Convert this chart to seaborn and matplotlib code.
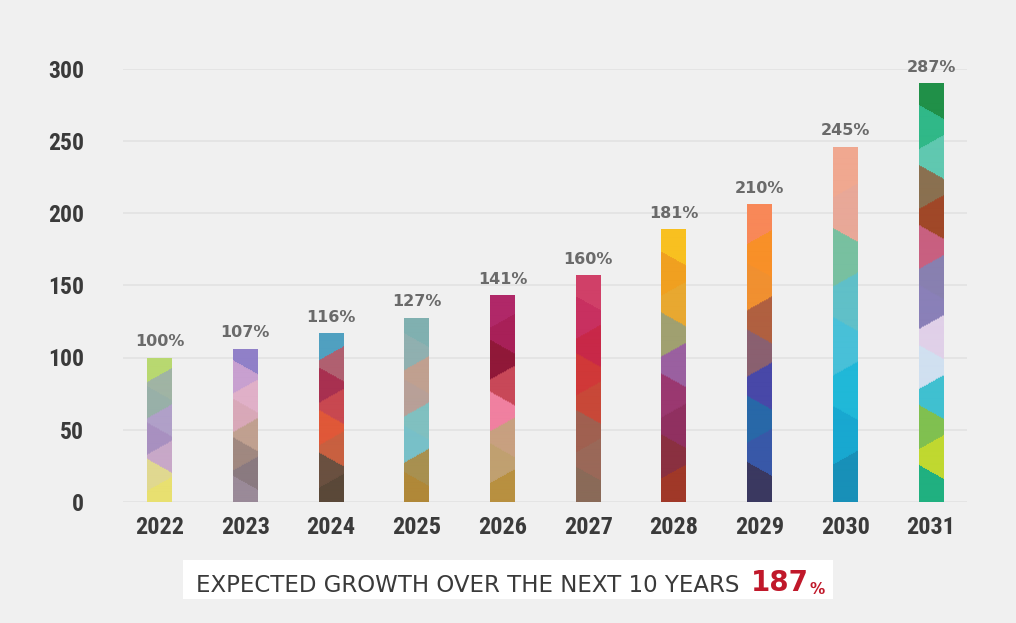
import matplotlib
matplotlib.use("Agg")
import matplotlib.pyplot as plt
import matplotlib.colors as mcolors
from matplotlib.patches import Rectangle
from matplotlib.text import Annotation
from matplotlib import font_manager
import numpy as np
import pandas as pd
import seaborn as sns

# ---- data ----
years = ["2022", "2023", "2024", "2025", "2026", "2027", "2028", "2029", "2030", "2031"]
values = [100, 106, 117, 127.5, 143, 157, 189, 206, 246, 290]
pct_labels = ["100%", "107%", "116%", "127%", "141%", "160%", "181%", "210%", "245%", "287%"]
y_ticks = [0, 50, 100, 150, 200, 250, 300]
footer_text = "EXPECTED GROWTH OVER THE NEXT 10 YEARS"
footer_value = "187"
footer_unit = "%"

# colour bands for each bar (bottom -> top), mimicking the faceted texture
bar_palettes = [
    ['#e8e070', '#e0d890', '#c8a8c8', '#a890c0', '#b0a0c8', '#98b0a8', '#a0b4a4', '#b8d870'],
    ['#9a8a98', '#8a7a80', '#a08880', '#c0a090', '#d8a8b8', '#e0b0c8', '#c8a0d0', '#9080c8'],
    ['#5a4838', '#6a5040', '#c86040', '#e05838', '#c84850', '#a83050', '#b06070', '#50a0c0'],
    ['#b08838', '#a89050', '#78c0c8', '#80c0c0', '#b8a098', '#c0a090', '#90b0b0', '#80b0b0'],
    ['#b89040', '#c0a070', '#c8a080', '#f080a0', '#c84858', '#901838', '#a82058', '#b02868'],
    ['#8a6a58', '#9a6858', '#a06050', '#c84838', '#d03838', '#c82848', '#c83060', '#d04068'],
    ['#a03828', '#8a3040', '#903060', '#9a3870', '#9a60a0', '#a0a070', '#e8a830', '#f0a020', '#f8c020'],
    ['#3a3860', '#3858a8', '#2868a8', '#4848a8', '#8a6070', '#b06040', '#f09030', '#f89028', '#f88858'],
    ['#1890b8', '#18a8d0', '#20b8d8', '#48c0d8', '#60c0c8', '#78c0a0', '#e8a898', '#f0a890'],
    ['#20b080', '#c0d830', '#80c050', '#40c0d0', '#d0e0f0', '#e0d0e8', '#8a80b8', '#8880b0',
     '#c86080', '#a04828', '#8a7050', '#60c8b0', '#30b888', '#209048'],
]

df = pd.DataFrame({"year": years, "value": values})

sns.set_theme(style="white")
plt.rcParams['font.family'] = ['DejaVu Sans']

available = {f.name for f in font_manager.fontManager.ttflist}
narrow = next((n for n in ['Roboto Condensed', 'Liberation Sans Narrow', 'DejaVu Sans Condensed']
               if n in available), 'DejaVu Sans')

BG = '#f0f0f0'
W, H = 1016, 623
fig = plt.figure(figsize=(W / 100, H / 100), dpi=100, facecolor=BG)
ax = fig.add_axes([123 / W, (H - 502) / H, 844 / W, (502 - 68.5) / H])
ax.set_facecolor(BG)

sns.barplot(data=df, x="year", y="value", ax=ax, width=0.29, color='#888888',
            saturation=1, zorder=3)

ax.set_xlim(-0.426, 9.42)
ax.set_ylim(0, 300)
px_per_unit = (502 - 68.5) / 300.0

# faceted texture for each bar (slanted colour bands)
for bi, (patch, pal) in enumerate(zip(ax.patches, bar_palettes)):
    x0, w, h = patch.get_x(), patch.get_width(), patch.get_height()
    n = len(pal)
    rgb = np.array([mcolors.to_rgb(c) for c in pal])
    hpx = h * px_per_unit
    rows, cols = int(max(hpx, 10)), 25
    yy = (np.arange(rows) + 0.5)[:, None] / rows          # 0..1 bottom->top
    xx = (np.arange(cols) + 0.5)[None, :] / cols - 0.5    # -0.5..0.5
    idx = np.zeros((rows, cols), dtype=int)
    for k in range(1, n):
        tilt = (14.0 / hpx) * (1 if (k + bi) % 2 else -1)
        boundary = k / n + tilt * xx
        idx += (yy >= boundary).astype(int)
    img = rgb[np.clip(idx, 0, n - 1)]
    im = ax.imshow(img, origin='lower', extent=[x0, x0 + w, 0, h], aspect='auto',
                   interpolation='bilinear', zorder=4)
    im.set_clip_path(patch)
    patch.set_facecolor('none')
    patch.set_edgecolor('none')

# percent labels
for patch, lab in zip(ax.patches, pct_labels):
    ax.annotate(lab, (patch.get_x() + patch.get_width() / 2, patch.get_height()),
                xytext=(0, 6), textcoords='offset points', ha='center', va='bottom',
                fontsize=11.5, fontweight='bold', color='#6a6a6a', zorder=5)

ax.set_yticks(y_ticks)
ax.set_yticklabels([str(t) for t in y_ticks])
ax.grid(axis='y', color='#e2e2e2', linewidth=1.2, zorder=0)
ax.grid(axis='x', visible=False)
for s in ax.spines.values():
    s.set_visible(False)
ax.set_xlabel("")
ax.set_ylabel("")
ax.tick_params(axis='y', length=0, pad=28, labelsize=17, labelcolor='#3a3a3a')
ax.tick_params(axis='x', length=0, pad=10, labelsize=17.5, labelcolor='#3a3a3a')
for t in list(ax.get_yticklabels()) + list(ax.get_xticklabels()):
    t.set_fontweight('bold')
    t.set_family([narrow, 'DejaVu Sans'])
    if narrow == 'DejaVu Sans':
        t.set_fontstretch('condensed')

# footer box
fig.patches.append(Rectangle((183 / W, (H - 599) / H), 650 / W, 39 / H,
                             transform=fig.transFigure, facecolor='white',
                             edgecolor='none', zorder=0))
t1 = fig.text(196 / W, (H - 592) / H, footer_text, fontsize=16.5,
              color='#3a3a3a', ha='left', va='baseline', zorder=5)
a2 = Annotation(footer_value, xy=(1, 0), xycoords=t1, xytext=(8, 0),
                textcoords='offset points', ha='left', va='bottom',
                fontsize=20, fontweight='bold', color='#c0182a', annotation_clip=False)
a2.set_zorder(5)
fig.add_artist(a2)
a3 = Annotation(footer_unit, xy=(1, 0), xycoords=a2, xytext=(1, 0),
                textcoords='offset points', ha='left', va='bottom',
                fontsize=11, fontweight='bold', color='#c0182a', annotation_clip=False)
a3.set_zorder(5)
fig.add_artist(a3)

fig.savefig("out.png", dpi=100, facecolor=BG)
